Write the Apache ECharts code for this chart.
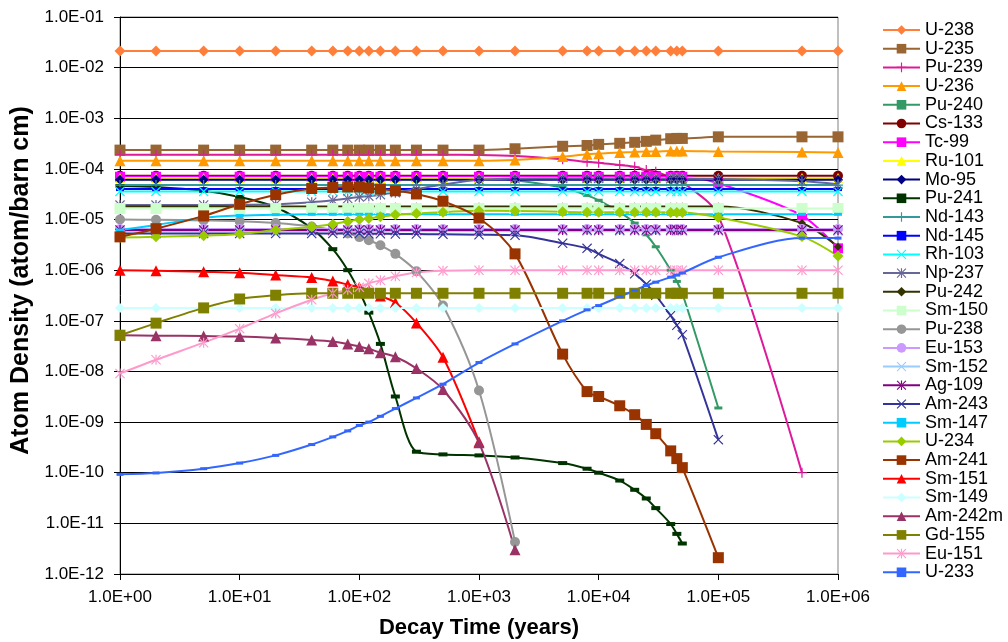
<!DOCTYPE html>
<html>
<head>
<meta charset="utf-8">
<script src="https://cdn.jsdelivr.net/npm/echarts@6/dist/echarts.min.js"></script>
<style>
html,body{margin:0;padding:0;background:#fff;}
#chart{width:1008px;height:642px;}
</style>
</head>
<body>
<div id="chart"></div>
<script>
// Decay time (years) sample points
const years = [1,2,5,10,20,40,60,80,100,120,150,200,300,500,1000,2000,5000,8000,10000,15000,20000,25000,30000,40000,45000,50000,100000,500000,1000000];

// Atom densities (atom/barn cm), one entry per year above (null = no point)
const u238 = [2.13e-2,2.13e-2,2.13e-2,2.13e-2,2.13e-2,2.13e-2,2.13e-2,2.13e-2,2.13e-2,2.13e-2,2.13e-2,2.13e-2,2.13e-2,2.13e-2,2.13e-2,2.13e-2,2.13e-2,2.13e-2,2.13e-2,2.13e-2,2.13e-2,2.13e-2,2.13e-2,2.13e-2,2.13e-2,2.13e-2,2.13e-2,2.13e-2,2.13e-2];
const u235 = [2.35e-4,2.35e-4,2.35e-4,2.35e-4,2.35e-4,2.35e-4,2.35e-4,2.35e-4,2.35e-4,2.35e-4,2.35e-4,2.35e-4,2.35e-4,2.35e-4,2.35e-4,2.5e-4,2.8e-4,2.9e-4,3.05e-4,3.2e-4,3.35e-4,3.5e-4,3.7e-4,3.95e-4,4.0e-4,4.0e-4,4.3e-4,4.3e-4,4.3e-4];
const pu239 = [1.9e-4,1.9e-4,1.9e-4,1.9e-4,1.9e-4,1.9e-4,1.9e-4,1.9e-4,1.9e-4,1.9e-4,1.9e-4,1.9e-4,1.9e-4,1.9e-4,1.88e-4,1.8e-4,1.55e-4,1.38e-4,1.33e-4,1.19e-4,1.1e-4,9.5e-5,8.8e-5,6.8e-5,6.2e-5,5.6e-5,1.2e-5,1.0e-10,null];
const u236 = [1.45e-4,1.45e-4,1.45e-4,1.45e-4,1.45e-4,1.45e-4,1.45e-4,1.45e-4,1.45e-4,1.45e-4,1.45e-4,1.45e-4,1.45e-4,1.45e-4,1.45e-4,1.5e-4,1.75e-4,1.95e-4,2.0e-4,2.1e-4,2.15e-4,2.2e-4,2.2e-4,2.25e-4,2.25e-4,2.25e-4,2.2e-4,2.15e-4,2.1e-4];
const pu240 = [7.0e-5,7.0e-5,7.0e-5,7.0e-5,7.0e-5,7.0e-5,7.0e-5,7.0e-5,7.0e-5,7.0e-5,7.0e-5,7.0e-5,7.0e-5,7.0e-5,7.0e-5,6.0e-5,4.3e-5,3.0e-5,2.4e-5,1.4e-5,8.5e-6,5.0e-6,2.9e-6,1.0e-6,6.0e-7,3.5e-7,1.9e-9,null,null];
const cs133 = [7.3e-5,7.3e-5,7.3e-5,7.3e-5,7.3e-5,7.3e-5,7.3e-5,7.3e-5,7.3e-5,7.3e-5,7.3e-5,7.3e-5,7.3e-5,7.3e-5,7.3e-5,7.3e-5,7.3e-5,7.3e-5,7.3e-5,7.3e-5,7.3e-5,7.3e-5,7.3e-5,7.3e-5,7.3e-5,7.3e-5,7.3e-5,7.3e-5,7.3e-5];
const tc99 = [7.0e-5,7.0e-5,7.0e-5,7.0e-5,7.0e-5,7.0e-5,7.0e-5,7.0e-5,7.0e-5,7.0e-5,7.0e-5,7.0e-5,7.0e-5,7.0e-5,7.0e-5,7.0e-5,7.0e-5,7.0e-5,7.0e-5,7.0e-5,7.0e-5,7.0e-5,7.0e-5,7.0e-5,7.0e-5,7.0e-5,5.2e-5,1.2e-5,2.7e-6];
const ru101 = [6.6e-5,6.6e-5,6.6e-5,6.6e-5,6.6e-5,6.6e-5,6.6e-5,6.6e-5,6.6e-5,6.6e-5,6.6e-5,6.6e-5,6.6e-5,6.6e-5,6.6e-5,6.6e-5,6.6e-5,6.6e-5,6.6e-5,6.6e-5,6.6e-5,6.6e-5,6.6e-5,6.6e-5,6.6e-5,6.6e-5,6.6e-5,6.6e-5,6.6e-5];
const mo95 = [6.1e-5,6.1e-5,6.1e-5,6.1e-5,6.1e-5,6.1e-5,6.1e-5,6.1e-5,6.1e-5,6.1e-5,6.1e-5,6.1e-5,6.1e-5,6.1e-5,6.1e-5,6.1e-5,6.1e-5,6.1e-5,6.1e-5,6.1e-5,6.1e-5,6.1e-5,6.1e-5,6.1e-5,6.1e-5,6.1e-5,6.1e-5,6.1e-5,6.1e-5];
const pu241 = [4.6e-5,4.4e-5,3.7e-5,2.8e-5,1.75e-5,6.7e-6,2.6e-6,1.0e-6,3.8e-7,1.45e-7,3.5e-8,3.2e-9,2.6e-10,2.3e-10,2.2e-10,2.0e-10,1.55e-10,1.2e-10,1.0e-10,7.0e-11,4.6e-11,3.1e-11,2.0e-11,9.7e-12,6.2e-12,4.0e-12,null,null,null];
const nd143 = [4.8e-5,4.8e-5,4.8e-5,4.8e-5,4.8e-5,4.8e-5,4.8e-5,4.8e-5,4.8e-5,4.8e-5,4.8e-5,4.8e-5,4.8e-5,4.8e-5,4.8e-5,4.8e-5,4.8e-5,4.8e-5,4.8e-5,4.8e-5,4.8e-5,4.8e-5,4.8e-5,4.8e-5,4.8e-5,4.8e-5,4.8e-5,4.8e-5,4.8e-5];
const nd145 = [4.0e-5,4.0e-5,4.0e-5,4.0e-5,4.0e-5,4.0e-5,4.0e-5,4.0e-5,4.0e-5,4.0e-5,4.0e-5,4.0e-5,4.0e-5,4.0e-5,4.0e-5,4.0e-5,4.0e-5,4.0e-5,4.0e-5,4.0e-5,4.0e-5,4.0e-5,4.0e-5,4.0e-5,4.0e-5,4.0e-5,4.0e-5,4.0e-5,4.0e-5];
const rh103 = [3.6e-5,3.6e-5,3.6e-5,3.6e-5,3.6e-5,3.6e-5,3.6e-5,3.6e-5,3.6e-5,3.6e-5,3.6e-5,3.6e-5,3.6e-5,3.6e-5,3.6e-5,3.6e-5,3.6e-5,3.6e-5,3.6e-5,3.6e-5,3.6e-5,3.6e-5,3.6e-5,3.6e-5,3.6e-5,3.6e-5,3.6e-5,3.6e-5,3.6e-5];
const np237 = [1.93e-5,1.93e-5,1.94e-5,1.96e-5,2.0e-5,2.2e-5,2.4e-5,2.6e-5,2.8e-5,2.9e-5,3.1e-5,3.4e-5,4.0e-5,4.9e-5,6.1e-5,6.4e-5,6.5e-5,6.5e-5,6.5e-5,6.5e-5,6.5e-5,6.5e-5,6.5e-5,6.4e-5,6.4e-5,6.4e-5,6.3e-5,5.7e-5,5.0e-5];
const pu242 = [1.8e-5,1.8e-5,1.8e-5,1.8e-5,1.8e-5,1.8e-5,1.8e-5,1.8e-5,1.8e-5,1.8e-5,1.8e-5,1.8e-5,1.8e-5,1.8e-5,1.8e-5,1.8e-5,1.8e-5,1.8e-5,1.8e-5,1.8e-5,1.8e-5,1.8e-5,1.8e-5,1.8e-5,1.8e-5,1.8e-5,1.8e-5,8.5e-6,2.9e-6];
const sm150 = [1.65e-5,1.65e-5,1.65e-5,1.65e-5,1.65e-5,1.65e-5,1.65e-5,1.65e-5,1.65e-5,1.65e-5,1.65e-5,1.65e-5,1.65e-5,1.65e-5,1.65e-5,1.65e-5,1.65e-5,1.65e-5,1.65e-5,1.65e-5,1.65e-5,1.65e-5,1.65e-5,1.65e-5,1.65e-5,1.65e-5,1.65e-5,1.65e-5,1.65e-5];
const pu238 = [1.0e-5,9.9e-6,9.6e-6,9.3e-6,8.5e-6,7.3e-6,6.2e-6,5.3e-6,4.5e-6,3.9e-6,3.1e-6,2.1e-6,9.5e-7,2.0e-7,4.2e-9,4.3e-12,null,null,null,null,null,null,null,null,null,null,null,null,null];
const eu153 = [6.5e-6,6.5e-6,6.5e-6,6.5e-6,6.5e-6,6.5e-6,6.5e-6,6.5e-6,6.5e-6,6.5e-6,6.5e-6,6.5e-6,6.5e-6,6.5e-6,6.5e-6,6.5e-6,6.5e-6,6.5e-6,6.5e-6,6.5e-6,6.5e-6,6.5e-6,6.5e-6,6.5e-6,6.5e-6,6.5e-6,6.5e-6,6.5e-6,6.5e-6];
const sm152 = [5.9e-6,5.9e-6,5.9e-6,5.9e-6,5.9e-6,5.9e-6,5.9e-6,5.9e-6,5.9e-6,5.9e-6,5.9e-6,5.9e-6,5.9e-6,5.9e-6,5.9e-6,5.9e-6,5.9e-6,5.9e-6,5.9e-6,5.9e-6,5.9e-6,5.9e-6,5.9e-6,5.9e-6,5.9e-6,5.9e-6,5.9e-6,5.9e-6,5.9e-6];
const ag109 = [6.2e-6,6.2e-6,6.2e-6,6.2e-6,6.2e-6,6.2e-6,6.2e-6,6.2e-6,6.2e-6,6.2e-6,6.2e-6,6.2e-6,6.2e-6,6.2e-6,6.2e-6,6.2e-6,6.2e-6,6.2e-6,6.2e-6,6.2e-6,6.2e-6,6.2e-6,6.2e-6,6.2e-6,6.2e-6,6.2e-6,6.2e-6,6.2e-6,6.2e-6];
const am243 = [5.3e-6,5.3e-6,5.3e-6,5.3e-6,5.3e-6,5.3e-6,5.3e-6,5.3e-6,5.3e-6,5.25e-6,5.25e-6,5.2e-6,5.2e-6,5.1e-6,5.0e-6,4.9e-6,3.4e-6,2.7e-6,2.1e-6,1.35e-6,8.5e-7,5.3e-7,3.2e-7,1.27e-7,8.2e-8,5.3e-8,4.5e-10,null,null];
const sm147 = [6.2e-6,7.8e-6,1.08e-5,1.2e-5,1.25e-5,1.27e-5,1.27e-5,1.27e-5,1.27e-5,1.27e-5,1.27e-5,1.27e-5,1.27e-5,1.27e-5,1.27e-5,1.27e-5,1.27e-5,1.27e-5,1.27e-5,1.27e-5,1.27e-5,1.27e-5,1.27e-5,1.27e-5,1.27e-5,1.27e-5,1.27e-5,1.27e-5,1.27e-5];
const u234 = [4.4e-6,4.55e-6,4.8e-6,5.2e-6,6.2e-6,7.2e-6,8.1e-6,9.2e-6,1.0e-5,1.05e-5,1.13e-5,1.25e-5,1.32e-5,1.4e-5,1.5e-5,1.48e-5,1.42e-5,1.4e-5,1.4e-5,1.4e-5,1.4e-5,1.4e-5,1.4e-5,1.38e-5,1.38e-5,1.38e-5,1.1e-5,4.6e-6,1.9e-6];
const am241 = [4.55e-6,6.6e-6,1.18e-5,2.0e-5,3.1e-5,4.1e-5,4.3e-5,4.4e-5,4.4e-5,4.2e-5,4.0e-5,3.7e-5,3.2e-5,2.3e-5,1.07e-5,2.1e-6,2.2e-8,4.0e-9,3.2e-9,2.1e-9,1.4e-9,9.0e-10,5.9e-10,2.7e-10,1.9e-10,1.26e-10,2.1e-12,null,null];
const sm151 = [1.0e-6,9.8e-7,9.3e-7,8.9e-7,8.0e-7,7.2e-7,6.1e-7,5.2e-7,4.6e-7,4.0e-7,3.1e-7,2.3e-7,9.1e-8,1.9e-8,4.1e-10,null,null,null,null,null,null,null,null,null,null,null,null,null,null];
const sm149 = [1.8e-7,1.8e-7,1.8e-7,1.8e-7,1.8e-7,1.8e-7,1.8e-7,1.8e-7,1.8e-7,1.8e-7,1.8e-7,1.8e-7,1.8e-7,1.8e-7,1.8e-7,1.8e-7,1.8e-7,1.8e-7,1.8e-7,1.8e-7,1.8e-7,1.8e-7,1.8e-7,1.8e-7,1.8e-7,1.8e-7,1.8e-7,1.8e-7,1.8e-7];
const am242m = [5.2e-8,5.1e-8,5.0e-8,4.9e-8,4.6e-8,4.2e-8,3.9e-8,3.5e-8,3.1e-8,2.8e-8,2.35e-8,1.95e-8,1.15e-8,4.4e-9,3.9e-10,3.0e-12,null,null,null,null,null,null,null,null,null,null,null,null,null];
const gd155 = [5.2e-8,9.0e-8,1.8e-7,2.7e-7,3.2e-7,3.5e-7,3.5e-7,3.5e-7,3.5e-7,3.5e-7,3.5e-7,3.5e-7,3.5e-7,3.5e-7,3.5e-7,3.5e-7,3.5e-7,3.5e-7,3.5e-7,3.5e-7,3.5e-7,3.5e-7,3.5e-7,3.5e-7,3.5e-7,3.5e-7,3.5e-7,3.5e-7,3.5e-7];
const eu151 = [9.1e-9,1.7e-8,3.7e-8,7.0e-8,1.4e-7,2.6e-7,3.5e-7,4.1e-7,4.6e-7,5.5e-7,6.3e-7,7.6e-7,9.0e-7,9.7e-7,1.0e-6,1.0e-6,1.0e-6,1.0e-6,1.0e-6,1.0e-6,1.0e-6,1.0e-6,1.0e-6,1.0e-6,1.0e-6,1.0e-6,1.0e-6,1.0e-6,1.0e-6];
const u233 = [9.3e-11,9.9e-11,1.2e-10,1.55e-10,2.2e-10,3.6e-10,5.1e-10,6.7e-10,8.6e-10,1.0e-9,1.3e-9,1.85e-9,3.0e-9,5.6e-9,1.5e-8,3.5e-8,1.0e-7,1.65e-7,2.0e-7,3.0e-7,4.0e-7,5.0e-7,5.8e-7,7.3e-7,8.0e-7,8.8e-7,1.8e-6,4.3e-6,4.3e-6];

// Axis tick values (decades)
const xTicks = [1,1e1,1e2,1e3,1e4,1e5,1e6];
const yTicks = [1e-12,1e-11,1e-10,1e-9,1e-8,1e-7,1e-6,1e-5,1e-4,1e-3,1e-2,1e-1];

const PLUS = 'path://M4.4,0H5.6V4.4H10V5.6H5.6V10H4.4V5.6H0V4.4H4.4Z';
const CROSS = 'path://M0,0.8L0.8,0L5,4.2L9.2,0L10,0.8L5.8,5L10,9.2L9.2,10L5,5.8L0.8,10L0,9.2L4.2,5Z';
const STAR = 'path://M0,0.8L0.8,0L5,4.2L9.2,0L10,0.8L5.8,5L10,9.2L9.2,10L5,5.8L0.8,10L0,9.2L4.2,5Z M4.4,0V10H5.6V0Z';
const DASH = 'rect';

const defs = [
  {name:'U-238', data:u238, color:'#FF7F3A', symbol:'diamond', size:11},
  {name:'U-235', data:u235, color:'#996633', symbol:'rect', size:11},
  {name:'Pu-239', data:pu239, color:'#DD1A9A', symbol:PLUS, size:10},
  {name:'U-236', data:u236, color:'#FF9900', symbol:'triangle', size:11},
  {name:'Pu-240', data:pu240, color:'#339966', symbol:DASH, size:[8,3]},
  {name:'Cs-133', data:cs133, color:'#800000', symbol:'circle', size:10},
  {name:'Tc-99', data:tc99, color:'#FF00FF', symbol:'rect', size:10},
  {name:'Ru-101', data:ru101, color:'#FFFF00', symbol:'triangle', size:10},
  {name:'Mo-95', data:mo95, color:'#000080', symbol:'diamond', size:10},
  {name:'Pu-241', data:pu241, color:'#003300', symbol:DASH, size:[9,4]},
  {name:'Nd-143', data:nd143, color:'#339999', symbol:PLUS, size:10},
  {name:'Nd-145', data:nd145, color:'#0000FF', symbol:DASH, size:[8,4]},
  {name:'Rh-103', data:rh103, color:'#00FFFF', symbol:CROSS, size:10},
  {name:'Np-237', data:np237, color:'#666699', symbol:STAR, size:10},
  {name:'Pu-242', data:pu242, color:'#333300', symbol:'diamond', size:8},
  {name:'Sm-150', data:sm150, color:'#CCFFCC', symbol:'rect', size:11},
  {name:'Pu-238', data:pu238, color:'#969696', symbol:'circle', size:10},
  {name:'Eu-153', data:eu153, color:'#CC99FF', symbol:'circle', size:10},
  {name:'Sm-152', data:sm152, color:'#99CCFF', symbol:CROSS, size:10},
  {name:'Ag-109', data:ag109, color:'#800080', symbol:STAR, size:10},
  {name:'Am-243', data:am243, color:'#333399', symbol:CROSS, size:10},
  {name:'Sm-147', data:sm147, color:'#00CCFF', symbol:DASH, size:[8,3]},
  {name:'U-234', data:u234, color:'#99CC00', symbol:'diamond', size:11},
  {name:'Am-241', data:am241, color:'#993300', symbol:'rect', size:11},
  {name:'Sm-151', data:sm151, color:'#FF0000', symbol:'triangle', size:11},
  {name:'Sm-149', data:sm149, color:'#CCFFFF', symbol:'diamond', size:10},
  {name:'Am-242m', data:am242m, color:'#993366', symbol:'triangle', size:11},
  {name:'Gd-155', data:gd155, color:'#808000', symbol:'rect', size:11},
  {name:'Eu-151', data:eu151, color:'#FF99CC', symbol:STAR, size:10},
  {name:'U-233', data:u233, color:'#3366FF', symbol:DASH, size:[7,3]}
];

function sci(v) {
  const e = Math.round(Math.log10(v));
  const s = e < 0 ? '-' : '+';
  return '1.0E' + s + String(Math.abs(e)).padStart(2, '0');
}

const FONT = 'Liberation Sans, Arial, sans-serif';
const chart = echarts.init(document.getElementById('chart'), null, {renderer: 'canvas'});

chart.setOption({
  animation: false,
  backgroundColor: '#ffffff',
  grid: {left: 120, right: 170, top: 17, bottom: 68, show: true, borderColor: '#808080', borderWidth: 1, containLabel: false, outerBoundsMode: 'none'},
  legend: {
    orient: 'vertical', left: 877, top: 16, padding: 5,
    itemWidth: 37, itemHeight: 12, itemGap: 0.7,
    data: defs.map(d => d.name),
    textStyle: {fontFamily: FONT, fontSize: 18, color: '#000'},
    selectedMode: false
  },
  xAxis: {
    type: 'log', logBase: 10, min: xTicks[0], max: xTicks[xTicks.length - 1], interval: 1,
    name: 'Decay Time (years)', nameLocation: 'middle', nameGap: 43,
    nameTextStyle: {fontFamily: FONT, fontSize: 22, fontWeight: 'bold', color: '#000'},
    axisLine: {show: true, lineStyle: {color: '#000', width: 1}},
    axisTick: {show: true, length: 6, lineStyle: {color: '#000'}},
    minorTick: {show: false},
    splitLine: {show: false},
    axisLabel: {formatter: sci, fontFamily: FONT, fontSize: 17, color: '#000', margin: 15, showMinLabel: true, showMaxLabel: true}
  },
  yAxis: {
    type: 'log', logBase: 10, min: yTicks[0], max: yTicks[yTicks.length - 1], interval: 1,
    name: 'Atom Density (atom/barn cm)', nameLocation: 'middle', nameGap: 83,
    nameTextStyle: {fontFamily: FONT, fontSize: 25, fontWeight: 'bold', color: '#000', padding: [0, 0, 0, 30]},
    axisLine: {show: true, lineStyle: {color: '#000', width: 1}},
    axisTick: {show: true, length: 6, lineStyle: {color: '#000'}},
    minorTick: {show: false},
    splitLine: {show: true, lineStyle: {color: '#000', width: 1}},
    axisLabel: {formatter: sci, fontFamily: FONT, fontSize: 17, color: '#000', margin: 16, showMinLabel: true, showMaxLabel: true}
  },
  series: defs.map(d => ({
    type: 'line',
    name: d.name,
    data: years.map((x, i) => [x, d.data[i]]).filter(p => p[1] != null),
    symbol: d.symbol,
    symbolSize: d.size,
    smooth: 0.3,
    lineStyle: {color: d.color, width: 2},
    itemStyle: {color: d.color},
    emphasis: {disabled: true},
    clip: true
  }))
});
</script>
</body>
</html>
